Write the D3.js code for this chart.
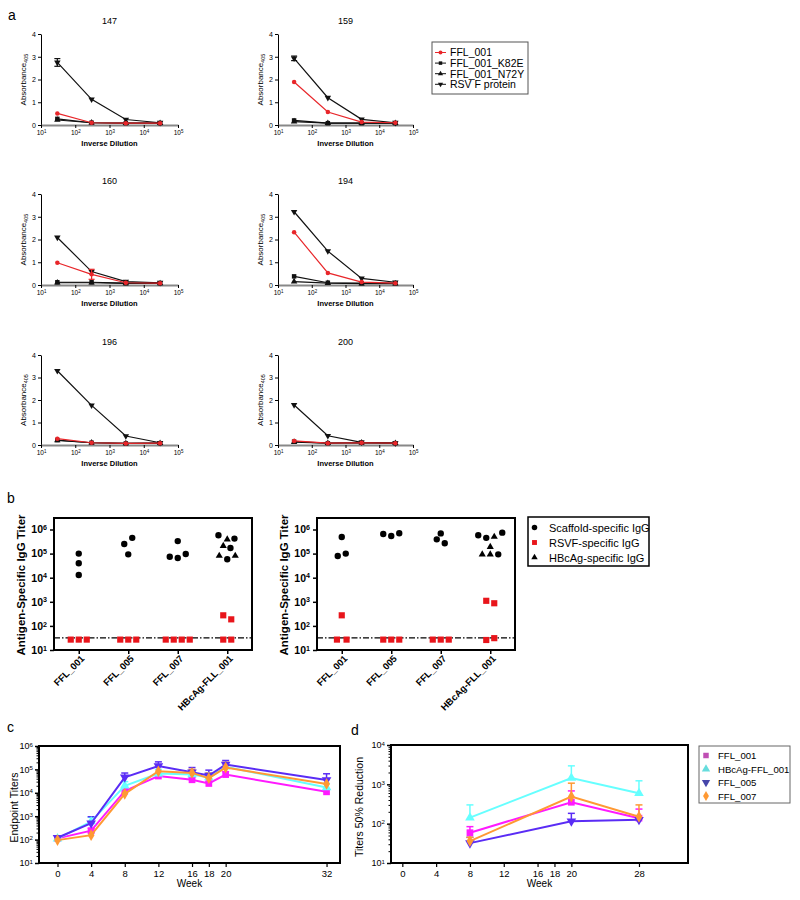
<!DOCTYPE html>
<html><head><meta charset="utf-8">
<script src="https://cdn.jsdelivr.net/npm/d3@7"></script>
<style>body{margin:0;background:#fff} svg text{font-family:Arial,"Liberation Sans",Helvetica,sans-serif}</style>
</head><body><svg id="chart" width="800" height="900"></svg>
<script>
// ---------------- DATA ----------------
// Panel a: ELISA curves for six mice
const aMice = ["147","159","160","194","196","200"];
const aSeriesNames = ["FFL_001","FFL_001_K82E","FFL_001_N72Y","RSV F protein"];
const aDilutions = [30, 300, 3000, 30000];
const aXTicks = [1e1, 1e2, 1e3, 1e4, 1e5];
const aYTicks = [0, 1, 2, 3, 4];
const aFFL001 = [[0.51,0.10,0.08,0.08],[1.89,0.57,0.13,0.10],[0.98,0.47,0.10,0.08],[2.32,0.53,0.13,0.08],[0.28,0.10,0.07,0.08],[0.18,0.08,0.10,0.08]];
const aK82E   = [[0.27,0.10,0.08,0.08],[0.20,0.08,0.08,0.08],[0.12,0.12,0.08,0.08],[0.38,0.10,0.08,0.08],[0.22,0.10,0.07,0.08],[0.15,0.08,0.10,0.08]];
const aN72Y   = [[0.22,0.10,0.08,0.08],[0.15,0.08,0.08,0.08],[0.10,0.10,0.07,0.07],[0.15,0.08,0.06,0.06],[0.20,0.10,0.07,0.08],[0.13,0.08,0.10,0.08]];
const aRSV    = [[2.75,1.13,0.24,0.10],[2.93,1.20,0.25,0.10],[2.09,0.59,0.15,0.10],[3.22,1.49,0.29,0.12],[3.30,1.76,0.40,0.10],[1.78,0.41,0.12,0.08]];
const aRSVErr    = [[0.17,0,0,0],[0.10,0,0,0],[0,0,0,0],[0,0,0,0],[0,0,0,0],[0,0,0,0]];
const aFFL001Err = [[0,0,0,0],[0,0,0,0],[0,0.22,0,0],[0,0,0,0],[0,0,0,0],[0,0,0,0]];

// Panel b: antigen-specific IgG titers (two experiments)
const bCategories = ["FFL_001","FFL_005","FFL_007","HBcAg-FLL_001"];
const bSeriesNames = ["Scaffold-specific IgG","RSVF-specific IgG","HBcAg-specific IgG"];
const bYTicks = [1e1,1e2,1e3,1e4,1e5,1e6];
const bLOD = 32;
const b1Scaffold     = [[1e5,4e4,1.3e4],[2.5e5,4.5e5,9.3e4],[7.4e4,3.3e5,6.6e4,9.6e4],[5.8e5,4.2e5,1.7e5,5.8e4]];
const b1ScaffoldSlot = [[0,0,0],[-0.5,0.5,0],[-1,0,0,1],[-1.1,0.9,0.4,0]];
const b1RSVF         = [[27,27,27],[27,27,27],[27,27,27,27],[275,187,27,27]];
const b1RSVFSlot     = [[-1,0,1],[-1,0,1],[-1.5,-0.5,0.5,1.5],[-0.5,0.5,-0.5,0.5]];
const b1HBc          = [[],[],[],[3.9e5,2.1e5,8.1e4,8.1e4]];
const b1HBcSlot      = [[],[],[],[0,-0.5,-1,1]];
const b2Scaffold     = [[8e4,4.9e5,1.0e5],[6.5e5,5.4e5,7e5],[3.9e5,6.9e5,2.7e5],[5.8e5,4.5e5,7.4e5,9.3e4]];
const b2ScaffoldSlot = [[-0.5,0,0.5],[-1,0,1],[-0.5,0,0.5],[-1.5,-0.5,1.5,1]];
const b2RSVF         = [[275,27,27],[27,27,27],[27,27,27],[1100,870,26,31]];
const b2RSVFSlot     = [[0,-0.6,0.6],[-1,0,1],[-1,0,1],[-0.5,0.5,-0.5,0.5]];
const b2HBc          = [[],[],[],[5e5,1.9e5,9.3e4,9.3e4]];
const b2HBcSlot      = [[],[],[],[0.5,0,-1,0]];

// Panel c: endpoint titers over weeks
const cWeeks = [0,4,8,12,16,18,20,32];
const cSeriesNames = ["FFL_001","HBcAg-FFL_001","FFL_005","FFL_007"];
const cYTicks = [1e1,1e2,1e3,1e4,1e5,1e6];
const cFFL001 = [113,240,1.2e4,5.2e4,3.6e4,2.5e4,6.0e4,1.1e4];
const cHBc    = [110,590,2.0e4,6.6e4,6.0e4,4.5e4,1.3e5,1.7e4];
const cFFL005 = [120,500,4.6e4,1.4e5,7.6e4,5.5e4,1.6e5,3.5e4];
const cFFL007 = [95,155,9.0e3,8.3e4,7.1e4,4.2e4,1.2e5,2.4e4];
const cFFL001Err = [125,300,1.6e4,6.0e4,4.5e4,3.0e4,8.0e4,1.4e4];
const cHBcErr    = [120,900,3.0e4,1.0e5,9.0e4,7.0e4,1.8e5,2.5e4];
const cFFL005Err = [130,950,7.0e4,2.1e5,1.2e5,9.3e4,2.4e5,6.5e4];
const cFFL007Err = [105,200,1.4e4,1.6e5,1.0e5,7.0e4,2.0e5,4.0e4];

// Panel d: 50% reduction titers
const dWeeks = [8,20,28];
const dXTicks = [0,4,8,12,16,18,20,28];
const dYTicks = [1e1,1e2,1e3,1e4];
const dFFL001 = [59,350,138];
const dHBc    = [142,1450,590];
const dFFL005 = [32,115,126];
const dFFL007 = [36,490,150];
const dFFL001Err = [84,680,235];
const dHBcErr    = [300,2950,1230];
const dFFL005Err = [45,183,140];
const dFFL007Err = [45,1070,300];

// ---------------- DRAWING ----------------
const svg = d3.select("#chart");
const NARROW = '"Liberation Sans Narrow","Arial Narrow",Arial,sans-serif';

function supTicks(g, size, weight, family){
  g.selectAll(".tick text").each(function(d){
    const t = d3.select(this); t.text(null);
    t.append("tspan").text("10");
    t.append("tspan").attr("dy","-0.45em").attr("font-size",(size*0.68)+"px").text(Math.round(Math.log10(d)));
  }).attr("font-size", size+"px").attr("font-weight", weight||"normal").attr("fill","#000")
    .style("font-family", family||null);
}
function sym(type, size){
  return d3.symbol().type(type).size(size)();
}
const SHAPES = {
  circle: d3.symbolCircle, square: d3.symbolSquare, up: d3.symbolTriangle,
  down: d3.symbolTriangle, diamond: d3.symbolDiamond
};
function drawMarker(g, shape, x, y, size, color){
  const p = g.append("path").attr("d", sym(SHAPES[shape], size)).attr("fill", color);
  if (shape === "down") p.attr("transform", `translate(${x},${y}) rotate(180)`);
  else p.attr("transform", `translate(${x},${y})`);
  return p;
}

// panel letters
[["a",8,20],["b",7,503],["c",7,732],["d",351,735]].forEach(([t,x,y])=>{
  svg.append("text").attr("x",x).attr("y",y).attr("font-size","14px").text(t);
});

// ----- Panel a -----
const aCols = [[41,178],[278,413]];
const aRows = [[34,125],[194,285],[355,445]];
const aRed = "#e8262a";
const aStyles = [
  {data:aRSV, err:aRSVErr, shape:"down", color:"#111"},
  {data:aK82E, err:null, shape:"square", color:"#111"},
  {data:aN72Y, err:null, shape:"up", color:"#111"},
  {data:aFFL001, err:aFFL001Err, shape:"circle", color:aRed}
];
aMice.forEach((m, i)=>{
  const col = aCols[i%2], row = aRows[Math.floor(i/2)];
  const x = d3.scaleLog().domain([1e1,1e5]).range(col);
  const y = d3.scaleLinear().domain([0,4]).range([row[1],row[0]]);
  const g = svg.append("g");
  g.append("text").attr("x",(col[0]+col[1])/2).attr("y",row[0]-10.5).attr("text-anchor","middle")
    .attr("font-size","9px").text(m);
  const ya = g.append("g").attr("transform",`translate(${col[0]},0)`)
    .call(d3.axisLeft(y).tickValues(aYTicks).tickFormat(d3.format("d")).tickSize(3).tickSizeOuter(0).tickPadding(2));
  ya.selectAll("text").attr("font-size","7px");
  ya.select(".domain").attr("stroke","#000").attr("stroke-width",1);
  const xa = g.append("g").attr("transform",`translate(0,${row[1]})`)
    .call(d3.axisBottom(x).tickValues(aXTicks).tickSize(3).tickSizeOuter(0).tickPadding(2));
  xa.select(".domain").attr("stroke","#888").attr("stroke-width",2);
  supTicks(xa, 6.5, "normal");
  g.append("text").attr("x",(col[0]+col[1])/2).attr("y",row[1]+21).attr("text-anchor","middle")
    .attr("font-size","7.5px").attr("font-weight","bold").text("Inverse Dilution");
  const yl = g.append("text").attr("transform",`translate(${col[0]-15},${(row[0]+row[1])/2}) rotate(-90)`)
    .attr("text-anchor","middle").attr("font-size","8px");
  yl.append("tspan").text("Absorbance");
  yl.append("tspan").attr("dy","0.35em").attr("font-size","5.5px").text("405");
  const line = d3.line().x((d,j)=>x(aDilutions[j])).y(d=>y(d));
  aStyles.forEach(s=>{
    const vals = s.data[i];
    g.append("path").attr("d", line(vals)).attr("fill","none").attr("stroke",s.color).attr("stroke-width",1.2);
    vals.forEach((v,j)=>{
      const e = s.err ? s.err[i][j] : 0;
      if (e>0){
        const xx = x(aDilutions[j]);
        g.append("line").attr("x1",xx).attr("x2",xx).attr("y1",y(v-e)).attr("y2",y(v+e)).attr("stroke",s.color).attr("stroke-width",1.2);
        [v-e, v+e].forEach(vv=>g.append("line").attr("x1",xx-3).attr("x2",xx+3).attr("y1",y(vv)).attr("y2",y(vv)).attr("stroke",s.color).attr("stroke-width",1.2));
      }
      drawMarker(g, s.shape, x(aDilutions[j]), y(v), s.shape==="circle"?16:(s.shape==="square"?20:18), s.color);
    });
  });
});
// legend a
{
  const lg = svg.append("g");
  lg.append("rect").attr("x",432).attr("y",42).attr("width",96).attr("height",52).attr("fill","#fff").attr("stroke","#555").attr("stroke-width",1);
  const shapes = ["circle","square","up","down"], cols = [aRed,"#111","#111","#111"];
  aSeriesNames.forEach((n,k)=>{
    const yy = 52.5 + k*10.6;
    lg.append("line").attr("x1",435).attr("x2",446).attr("y1",yy).attr("y2",yy).attr("stroke",cols[k]).attr("stroke-width",1);
    drawMarker(lg, shapes[k], 440.5, yy, 12, cols[k]);
    lg.append("text").attr("x",450).attr("y",yy+3.8).attr("font-size","10.5px").text(n);
  });
}

// ----- Panel b -----
const bPlots = [
  {x0:54, x1:252, sc:b1Scaffold, scS:b1ScaffoldSlot, rs:b1RSVF, rsS:b1RSVFSlot, hb:b1HBc, hbS:b1HBcSlot},
  {x0:317, x1:515, sc:b2Scaffold, scS:b2ScaffoldSlot, rs:b2RSVF, rsS:b2RSVFSlot, hb:b2HBc, hbS:b2HBcSlot}
];
const bTop = 518, bBot = 650;
bPlots.forEach(p=>{
  const x = d3.scalePoint().domain(bCategories).range([p.x0,p.x1]).padding(0.5);
  const y = d3.scaleLog().domain([1e1,3e6]).range([bBot,bTop]);
  const g = svg.append("g");
  const ya = g.append("g").attr("transform",`translate(${p.x0},0)`)
    .call(d3.axisLeft(y).tickValues(bYTicks).tickSize(4).tickSizeOuter(0).tickPadding(3));
  supTicks(ya, 10.5, "bold");
  ya.selectAll(".tick line").attr("stroke-width",1.5);
  ya.select(".domain").remove();
  const xa = g.append("g").attr("transform",`translate(0,${bBot})`)
    .call(d3.axisBottom(x).tickSize(4).tickSizeOuter(0).tickFormat(""));
  xa.select(".domain").remove();
  xa.selectAll(".tick line").attr("stroke-width",1.5);
  // rotated category labels (rotation on an enclosing group)
  bCategories.forEach(c=>{
    g.append("g").attr("transform",`translate(${x(c)+4},${bBot+7})`)
      .append("g").attr("transform","rotate(-45)")
      .append("text").attr("x",0).attr("y",0)
      .attr("text-anchor","end").attr("dy","0.35em").attr("font-size","9.5px").attr("font-weight","bold").text(c);
  });
  g.append("rect").attr("x",p.x0).attr("y",bTop).attr("width",p.x1-p.x0).attr("height",bBot-bTop)
    .attr("fill","none").attr("stroke","#000").attr("stroke-width",2);
  g.append("line").attr("x1",p.x0).attr("x2",p.x1).attr("y1",y(bLOD)).attr("y2",y(bLOD))
    .attr("stroke","#000").attr("stroke-width",1.3).attr("stroke-dasharray","6,2,1.5,2");
  g.append("text").attr("transform",`translate(${p.x0-29},${(bTop+bBot)/2+1}) rotate(-90)`)
    .attr("text-anchor","middle").attr("font-size","11.5px").attr("font-weight","bold")
    .text("Antigen-Specific  IgG Titer");
  const U = 8;
  bCategories.forEach((c,i)=>{
    p.rs[i].forEach((v,j)=>drawMarker(g,"square",x(c)+p.rsS[i][j]*U,y(v),38,"#e8151b"));
    p.sc[i].forEach((v,j)=>drawMarker(g,"circle",x(c)+p.scS[i][j]*U,y(v),32,"#000"));
    p.hb[i].forEach((v,j)=>drawMarker(g,"up",x(c)+p.hbS[i][j]*U,y(v),22,"#000"));
  });
});
// legend b
{
  const lg = svg.append("g");
  lg.append("rect").attr("x",528).attr("y",517).attr("width",121).attr("height",49).attr("fill","#fff").attr("stroke","#000").attr("stroke-width",1.5);
  const shapes=["circle","square","up"], cols=["#000","#e8151b","#000"];
  bSeriesNames.forEach((n,k)=>{
    const yy = 527.5 + k*15;
    drawMarker(lg, shapes[k], 534.5, yy, shapes[k]==="up"?18:24, cols[k]);
    lg.append("text").attr("x",549).attr("y",yy+4).attr("font-size","11px").text(n);
  });
}

// ----- Panels c and d -----
const colMag = "#ff1aff", colCyan = "#66ffff", colBlue = "#5a2cf5", colOrange = "#ff9933";
function timePanel(cfg){
  const g = svg.append("g");
  const x = d3.scaleLinear().domain(cfg.xdom).range([cfg.x0,cfg.x1]);
  const y = d3.scaleLog().domain(cfg.ydom).range([cfg.y1,cfg.y0]);
  const minor = [];
  for (let e=Math.log10(cfg.ydom[0]); e<Math.log10(cfg.ydom[1]); e++) for (let k=2;k<10;k++) minor.push(k*Math.pow(10,e));
  g.append("g").attr("transform",`translate(${cfg.x0},0)`)
    .call(d3.axisLeft(y).tickValues(minor).tickSize(2.5).tickFormat("").tickSizeOuter(0))
    .call(s=>s.select(".domain").remove()).selectAll("line").attr("stroke-width",1);
  const ya = g.append("g").attr("transform",`translate(${cfg.x0},0)`)
    .call(d3.axisLeft(y).tickValues(cfg.yticks).tickSize(4).tickSizeOuter(0).tickPadding(2));
  ya.select(".domain").remove();
  ya.selectAll(".tick line").attr("stroke-width",1.5);
  supTicks(ya, 9, "normal", NARROW);
  const xa = g.append("g").attr("transform",`translate(0,${cfg.y1})`)
    .call(d3.axisBottom(x).tickValues(cfg.xticks).tickSize(4).tickSizeOuter(0).tickPadding(3));
  xa.select(".domain").remove();
  xa.selectAll(".tick line").attr("stroke-width",1.2);
  xa.selectAll(".tick text").attr("font-size","9.5px").style("font-family",NARROW);
  g.append("rect").attr("x",cfg.x0).attr("y",cfg.y0).attr("width",cfg.x1-cfg.x0).attr("height",cfg.y1-cfg.y0)
    .attr("fill","none").attr("stroke","#000").attr("stroke-width",2);
  g.append("text").attr("x",(cfg.x0+cfg.x1)/2).attr("y",cfg.y1+24).attr("text-anchor","middle")
    .attr("font-size","10px").style("font-family",NARROW).text("Week");
  g.append("text").attr("transform",`translate(${cfg.ylabX},${(cfg.y0+cfg.y1)/2+3}) rotate(-90)`)
    .attr("text-anchor","middle").attr("font-size","10.5px").text(cfg.ylabel);
  const line = d3.line().x((d,j)=>x(cfg.weeks[j])).y(d=>y(d));
  cfg.series.forEach(s=>{
    s.err.forEach((e,j)=>{
      const xx = x(cfg.weeks[j]);
      g.append("line").attr("x1",xx).attr("x2",xx).attr("y1",y(s.vals[j])).attr("y2",y(e)).attr("stroke",s.color).attr("stroke-width",1.5);
      g.append("line").attr("x1",xx-3.5).attr("x2",xx+3.5).attr("y1",y(e)).attr("y2",y(e)).attr("stroke",s.color).attr("stroke-width",1.5);
    });
  });
  cfg.series.forEach(s=>{
    g.append("path").attr("d",line(s.vals)).attr("fill","none").attr("stroke",s.color).attr("stroke-width",2);
    s.vals.forEach((v,j)=>drawMarker(g,s.shape,x(cfg.weeks[j]),y(v),s.size,s.color));
  });
}
timePanel({
  x0:39, x1:340, y0:746, y1:863, xdom:[-2.2,33.6], ydom:[1e1,1e6],
  weeks:cWeeks, xticks:cWeeks, yticks:cYTicks, ylabel:"Endpoint Titers", ylabX:18,
  series:[
    {vals:cFFL001, err:cFFL001Err, color:colMag, shape:"square", size:45},
    {vals:cHBc, err:cHBcErr, color:colCyan, shape:"up", size:40},
    {vals:cFFL005, err:cFFL005Err, color:colBlue, shape:"down", size:40},
    {vals:cFFL007, err:cFFL007Err, color:colOrange, shape:"diamond", size:40}
  ]
});
timePanel({
  x0:391, x1:688, y0:745, y1:863, xdom:[-1.34,33.8], ydom:[1e1,1e4],
  weeks:dWeeks, xticks:dXTicks, yticks:dYTicks, ylabel:"Titers 50% Reduction", ylabX:363,
  series:[
    {vals:dFFL001, err:dFFL001Err, color:colMag, shape:"square", size:45},
    {vals:dHBc, err:dHBcErr, color:colCyan, shape:"up", size:40},
    {vals:dFFL005, err:dFFL005Err, color:colBlue, shape:"down", size:40},
    {vals:dFFL007, err:dFFL007Err, color:colOrange, shape:"diamond", size:40}
  ]
});
// legend d
{
  const lg = svg.append("g");
  lg.append("rect").attr("x",699).attr("y",746).attr("width",91).attr("height",57).attr("fill","#fff").attr("stroke","#666").attr("stroke-width",1);
  const shapes=["square","up","down","diamond"], cols=["#c04fb4","#66dddd","#4646aa","#ff9933"];
  cSeriesNames.forEach((n,k)=>{
    const yy = 755.5 + k*13.5;
    drawMarker(lg, shapes[k], 706, yy, 30, cols[k]);
    lg.append("text").attr("x",718).attr("y",yy+3.6).attr("font-size","9.6px").text(n);
  });
}
</script></body></html>
